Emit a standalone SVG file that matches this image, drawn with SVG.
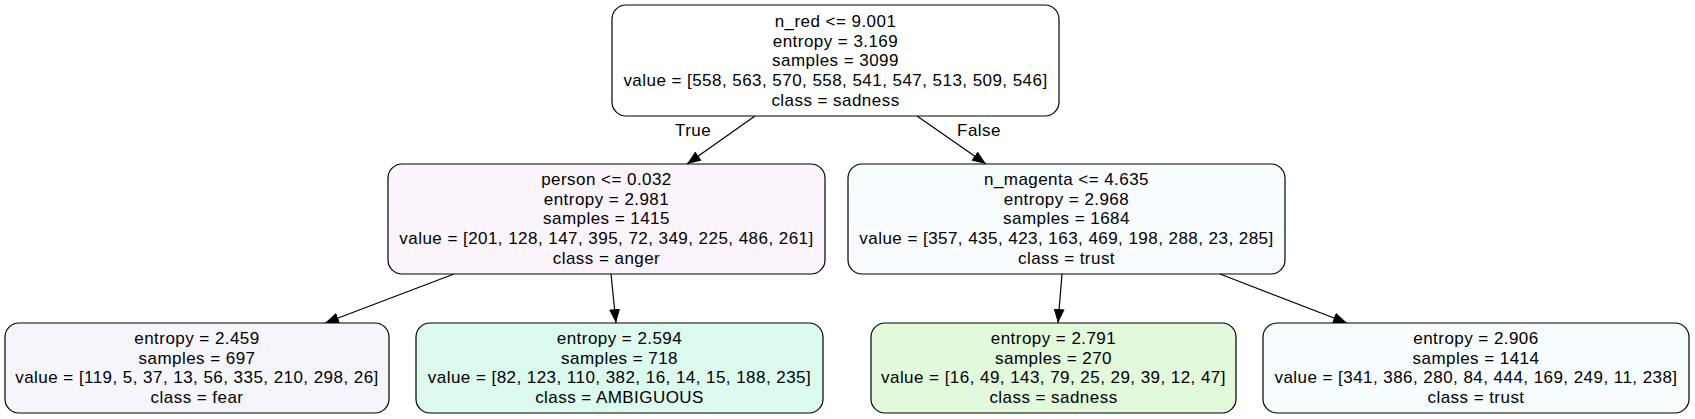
<svg xmlns="http://www.w3.org/2000/svg" width="1695" height="419" viewBox="0 0 1695 419">
<defs>
<style>
.node rect{stroke:#000;stroke-width:1.2}
text{font-family:"Liberation Sans",Arial,sans-serif;font-size:17px;letter-spacing:0.45px;fill:#000;text-anchor:middle}
.edge line{stroke:#000;stroke-width:1.2}
</style>
<marker id="ah" markerUnits="userSpaceOnUse" markerWidth="15" markerHeight="12" refX="14" refY="5.5" orient="auto" viewBox="0 0 15 11">
<path d="M0,0 L14,5.5 L0,11 z" fill="#000"/>
</marker>
</defs>
<rect width="1695" height="419" fill="#fff"/>
<g id="connectors" class="edge">
<line x1="755" y1="116" x2="687" y2="164" marker-end="url(#ah)"/>
<line x1="917" y1="116" x2="986" y2="164" marker-end="url(#ah)"/>
<line x1="454" y1="274" x2="325" y2="323" marker-end="url(#ah)"/>
<line x1="611" y1="274" x2="616" y2="323" marker-end="url(#ah)"/>
<line x1="1062" y1="274" x2="1058" y2="323" marker-end="url(#ah)"/>
<line x1="1220" y1="274" x2="1347" y2="323" marker-end="url(#ah)"/>
<text x="693" y="136">True</text>
<text x="979" y="136">False</text>
</g>
<g id="node0" class="node">
<rect x="612" y="5" width="447" height="111" rx="14" fill="#ffffff"/>
<text x="835.5" y="27">n_red &lt;= 9.001</text>
<text x="835.5" y="46.5">entropy = 3.169</text>
<text x="835.5" y="66">samples = 3099</text>
<text x="835.5" y="86">value = [558, 563, 570, 558, 541, 547, 513, 509, 546]</text>
<text x="835.5" y="105.5">class = sadness</text>
</g>
<g id="node1" class="node">
<rect x="388" y="164" width="437" height="110" rx="14" fill="#fbf4fb"/>
<text x="606.5" y="185">person &lt;= 0.032</text>
<text x="606.5" y="204.5">entropy = 2.981</text>
<text x="606.5" y="224">samples = 1415</text>
<text x="606.5" y="244">value = [201, 128, 147, 395, 72, 349, 225, 486, 261]</text>
<text x="606.5" y="263.5">class = anger</text>
</g>
<g id="node4" class="node">
<rect x="848" y="164" width="437" height="110" rx="14" fill="#f8fcfe"/>
<text x="1066.5" y="185">n_magenta &lt;= 4.635</text>
<text x="1066.5" y="204.5">entropy = 2.968</text>
<text x="1066.5" y="224">samples = 1684</text>
<text x="1066.5" y="244">value = [357, 435, 423, 163, 469, 198, 288, 23, 285]</text>
<text x="1066.5" y="263.5">class = trust</text>
</g>
<g id="node2" class="node">
<rect x="5" y="323" width="384" height="90" rx="14" fill="#f5f6fc"/>
<text x="197" y="344">entropy = 2.459</text>
<text x="197" y="363.5">samples = 697</text>
<text x="197" y="383">value = [119, 5, 37, 13, 56, 335, 210, 298, 26]</text>
<text x="197" y="403">class = fear</text>
</g>
<g id="node3" class="node">
<rect x="416" y="323" width="407" height="90" rx="14" fill="#dcfaed"/>
<text x="619.5" y="344">entropy = 2.594</text>
<text x="619.5" y="363.5">samples = 718</text>
<text x="619.5" y="383">value = [82, 123, 110, 382, 16, 14, 15, 188, 235]</text>
<text x="619.5" y="403">class = AMBIGUOUS</text>
</g>
<g id="node5" class="node">
<rect x="871" y="323" width="365" height="90" rx="14" fill="#e3f9dc"/>
<text x="1053.5" y="344">entropy = 2.791</text>
<text x="1053.5" y="363.5">samples = 270</text>
<text x="1053.5" y="383">value = [16, 49, 143, 79, 25, 29, 39, 12, 47]</text>
<text x="1053.5" y="403">class = sadness</text>
</g>
<g id="node6" class="node">
<rect x="1263" y="323" width="426" height="90" rx="14" fill="#f7fdfe"/>
<text x="1476" y="344">entropy = 2.906</text>
<text x="1476" y="363.5">samples = 1414</text>
<text x="1476" y="383">value = [341, 386, 280, 84, 444, 169, 249, 11, 238]</text>
<text x="1476" y="403">class = trust</text>
</g>
</svg>
